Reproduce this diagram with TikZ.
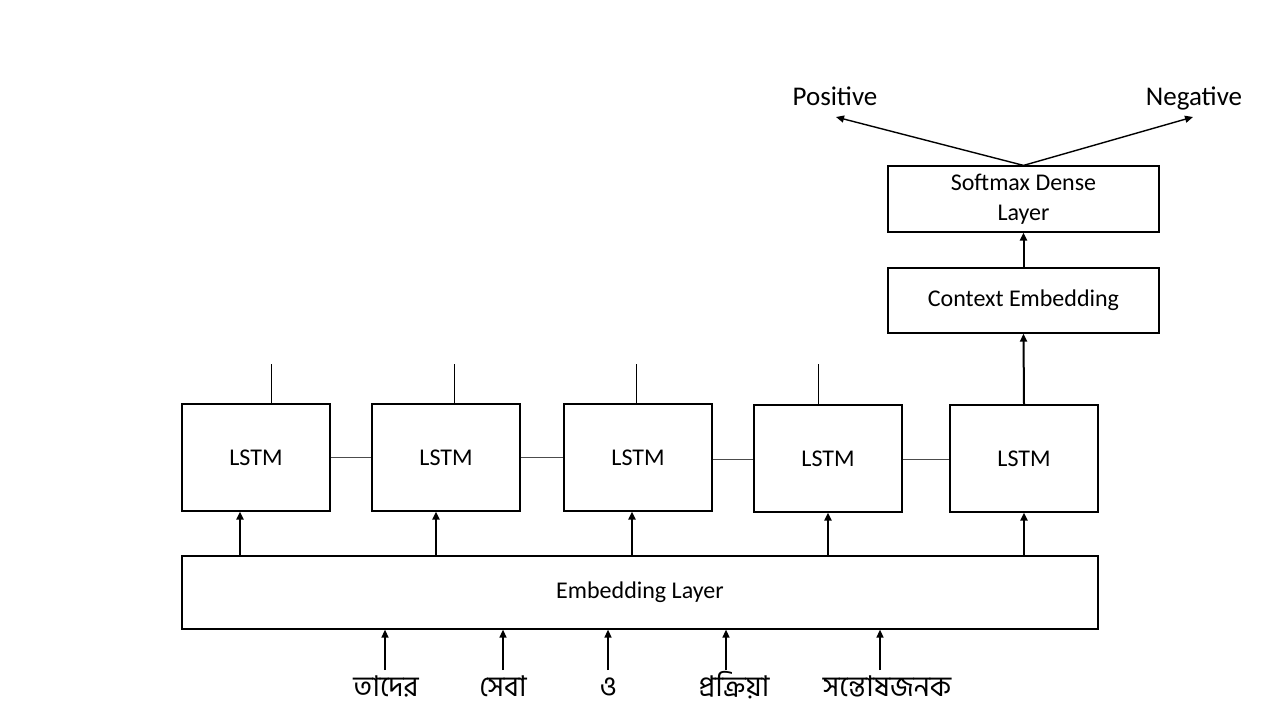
\documentclass[tikz,border=0pt]{standalone}
\usepackage{fontspec}
\setmainfont{Carlito}
\newfontfamily\bnfont[Script=Bengali]{Hind Siliguri}
\usetikzlibrary{arrows.meta}
\tikzset{
  box/.style={draw, line width=0.6pt, inner sep=0pt, font=\fontsize{12}{14}\selectfont},
  arr/.style={-{Triangle[length=4pt,width=3.5pt]}, line width=1pt},
  thinarr/.style={-{Triangle[length=4pt,width=3.5pt]}, line width=0.7pt},
  link/.style={line width=0.5pt, black!70},
  stub/.style={line width=0.5pt},
  outtxt/.style={font=\fontsize{13.5}{15}\selectfont, anchor=base, inner sep=0pt},
  word/.style={font=\bnfont\fontsize{14.3}{16}\selectfont, inner sep=0pt, anchor=base}
}
\begin{document}
\begin{tikzpicture}[x=0.5pt,y=-0.5pt]
\useasboundingbox (0,0) rectangle (1280,720);
% LSTM boxes
\node[box, minimum width=74pt, minimum height=53.5pt] (l1) at (256,457.5) {LSTM};
\node[box, minimum width=74pt, minimum height=53.5pt] (l2) at (446,457.5) {LSTM};
\node[box, minimum width=74pt, minimum height=53.5pt] (l3) at (638,457.5) {LSTM};
\node[box, minimum width=74pt, minimum height=53.5pt] (l4) at (828,458.5) {LSTM};
\node[box, minimum width=74pt, minimum height=53.5pt] (l5) at (1024,458.5) {LSTM};
% embedding
\node[box, minimum width=458pt, minimum height=36.5pt] (emb) at (640,592.5) {Embedding Layer};
% context and softmax
\node[box, minimum width=135.5pt, minimum height=32.5pt] (ctx) at (1023.5,300.5) {Context Embedding};
\node[box, minimum width=135.5pt, minimum height=33pt, align=center] (soft) at (1023.5,199) {Softmax Dense\\[1.2pt]Layer};
% outputs
\node[outtxt] (pos) at (835,105) {Positive};
\node[outtxt] (neg) at (1194,105) {Negative};
\coordinate (pa) at (836,117);
\coordinate (na) at (1193,117);
\draw[thinarr] (soft.north) -- (pa);
\draw[thinarr] (soft.north) -- (na);
\draw[arr] (ctx.north) -- (soft.south);
\draw[arr] (l5.north) -- (ctx.south);
% stubs above LSTMs
\coordinate (s1) at (271,364);
\coordinate (s2) at (454,364);
\coordinate (s3) at (636,364);
\coordinate (s4) at (818,364);
\draw[stub] (s1) -- (s1 |- l1.north);
\draw[stub] (s2) -- (s2 |- l2.north);
\draw[stub] (s3) -- (s3 |- l3.north);
\draw[stub] (s4) -- (s4 |- l4.north);
% horizontal links
\draw[link] (l1.east) -- (l2.west);
\draw[link] (l2.east) -- (l3.west);
\draw[link] (l3.east |- 0,459) -- (l4.west |- 0,459);
\draw[link] (l4.east |- 0,459) -- (l5.west |- 0,459);
% embedding to LSTM arrows
\coordinate (e1) at (240,556);
\coordinate (e2) at (436,556);
\coordinate (e3) at (632,556);
\coordinate (e4) at (828,556);
\coordinate (e5) at (1024,556);
\draw[arr] (e1) -- (e1 |- l1.south);
\draw[arr] (e2) -- (e2 |- l2.south);
\draw[arr] (e3) -- (e3 |- l3.south);
\draw[arr] (e4) -- (e4 |- l4.south);
\draw[arr] (e5) -- (e5 |- l5.south);
% words
\node[word] (w1) at (386,696) {তাদের};
\node[word] (w2) at (503,696) {সেবা};
\node[word] (w3) at (608,696) {ও};
\node[word] (w4) at (734,696) {প্রক্রিয়া};
\node[word] (w5) at (887,696) {সন্তোষজনক};
\coordinate (t1) at (385,670);
\coordinate (t2) at (503,670);
\coordinate (t3) at (608,670);
\coordinate (t4) at (726,670);
\coordinate (t5) at (880,670);
\draw[thinarr] (t1) -- (t1 |- emb.south);
\draw[thinarr] (t2) -- (t2 |- emb.south);
\draw[thinarr] (t3) -- (t3 |- emb.south);
\draw[thinarr] (t4) -- (t4 |- emb.south);
\draw[thinarr] (t5) -- (t5 |- emb.south);
\end{tikzpicture}
\end{document}
